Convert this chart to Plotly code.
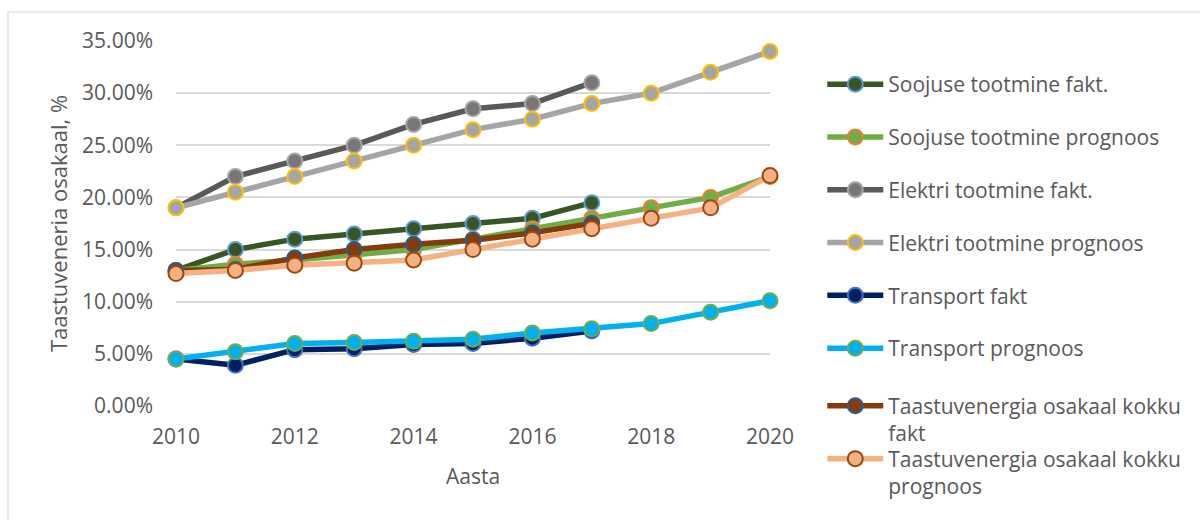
import plotly.graph_objects as go

# Years on the x axis
years = list(range(2010, 2021))
years_fakt = list(range(2010, 2018))

# Renewable energy shares (%), actual values and forecasts
soojus_fakt = [13.0, 15.0, 16.0, 16.5, 17.0, 17.5, 18.0, 19.5]
soojus_prognoos = [13.0, 13.6, 14.0, 14.5, 15.0, 16.0, 17.0, 18.0, 19.0, 20.0, 22.0]
elekter_fakt = [19.0, 22.0, 23.5, 25.0, 27.0, 28.5, 29.0, 31.0]
elekter_prognoos = [19.0, 20.5, 22.0, 23.5, 25.0, 26.5, 27.5, 29.0, 30.0, 32.0, 34.0]
transport_fakt = [4.5, 3.9, 5.4, 5.5, 5.9, 6.0, 6.5, 7.2]
transport_prognoos = [4.5, 5.2, 6.0, 6.1, 6.2, 6.4, 7.0, 7.4, 7.9, 9.0, 10.1]
kokku_fakt = [13.0, 13.1, 14.2, 15.0, 15.5, 15.9, 16.6, 17.5]
kokku_prognoos = [12.7, 13.0, 13.5, 13.7, 14.0, 15.0, 16.0, 17.0, 18.0, 19.0, 22.1]

series_names = [
    "Soojuse tootmine fakt.",
    "Soojuse tootmine prognoos",
    "Elektri tootmine fakt.",
    "Elektri tootmine prognoos",
    "Transport fakt",
    "Transport prognoos",
    "Taastuvenergia osakaal kokku<br>fakt",
    "Taastuvenergia osakaal kokku<br>prognoos",
]

x_ticks = [2010, 2012, 2014, 2016, 2018, 2020]

TEXT = "#595959"
GRID = "#D9D9D9"
FONT = "Open Sans"
FS = 21

series = [
    (years_fakt, soojus_fakt, "#375623", "#375623", "#5B9BD5"),
    (years, soojus_prognoos, "#70AD47", "#70AD47", "#ED7D31"),
    (years_fakt, elekter_fakt, "#595959", "#7A7676", "#A5A5A5"),
    (years, elekter_prognoos, "#A5A5A5", "#A5A5A5", "#FFC000"),
    (years_fakt, transport_fakt, "#002060", "#002060", "#4472C4"),
    (years, transport_prognoos, "#00B0F0", "#00B0F0", "#70AD47"),
    (years_fakt, kokku_fakt, "#843C0C", "#843C0C", "#255E91"),
    (years, kokku_prognoos, "#F4B183", "#F4B183", "#9E480E"),
]

# legend box for each entry: the two-line entries get their own boxes
legend_of = ["legend"] * 6 + ["legend2", "legend3"]

fig = go.Figure()
for name, (xs, vals, line_c, fill_c, edge_c), leg in zip(series_names, series, legend_of):
    fig.add_trace(go.Scatter(
        x=xs,
        y=[v / 100 for v in vals],
        name=name,
        mode="lines+markers",
        line=dict(color=line_c, width=5.5),
        marker=dict(size=15, color=fill_c, line=dict(color=edge_c, width=2)),
        cliponaxis=False,
        legendgroup=name,
        legend=leg,
    ))

legend_style = dict(
    x=1.088, xanchor="left", yanchor="top",
    font=dict(family=FONT, size=FS, color=TEXT),
    tracegroupgap=22.5,
    itemwidth=56,
    valign="top",
    bgcolor="rgba(0,0,0,0)",
)

fig.update_layout(
    width=1200,
    height=520,
    margin=dict(l=176, r=430, t=41, b=113.5),
    paper_bgcolor="white",
    plot_bgcolor="white",
    font=dict(family=FONT, color=TEXT, size=FS),
    showlegend=True,
    legend=dict(legend_style, y=0.937),
    legend2=dict(legend_style, y=0.056),
    legend3=dict(legend_style, y=-0.089),
    xaxis=dict(
        range=[2010, 2020],
        tickvals=x_ticks,
        ticktext=[str(t) for t in x_ticks],
        showgrid=False,
        zeroline=False,
        showline=False,
        ticks="",
        ticklabelstandoff=16,
        tickfont=dict(family=FONT, size=FS, color=TEXT),
        title=dict(text="Aasta", font=dict(family=FONT, size=FS, color=TEXT), standoff=20),
    ),
    yaxis=dict(
        range=[0, 0.35],
        dtick=0.05,
        tickformat=".2%",
        showgrid=True,
        gridcolor=GRID,
        gridwidth=1.5,
        zeroline=False,
        showline=False,
        ticks="",
        ticklabelstandoff=22,
        tickfont=dict(family=FONT, size=FS, color=TEXT),
        title=dict(text="Taastuveneria osakaal, %", font=dict(family=FONT, size=22, color=TEXT), standoff=8),
    ),
    shapes=[dict(
        type="rect", xref="paper", yref="paper",
        x0=-0.2828, x1=1.9, y0=-0.5, y1=1.0794,
        line=dict(color=GRID, width=1.2), fillcolor="rgba(0,0,0,0)", layer="below",
    )],
)

fig.write_html("out.html")
